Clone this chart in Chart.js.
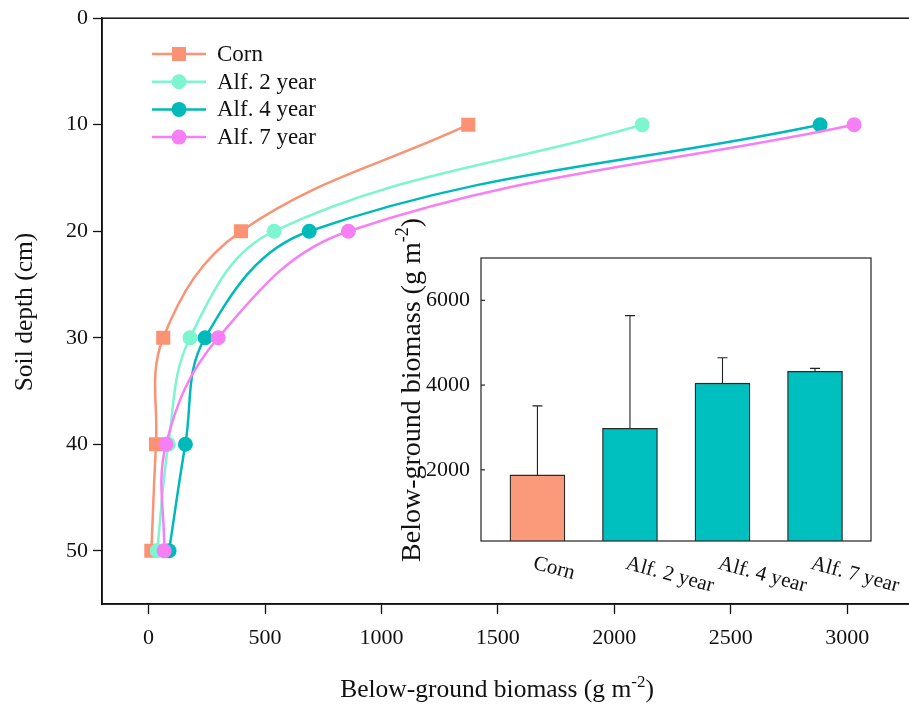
<!DOCTYPE html>
<html><head><meta charset="utf-8">
<script src="https://cdn.jsdelivr.net/npm/chart.js@4.4.1/dist/chart.umd.min.js"></script>
<style>
html,body{margin:0;padding:0;background:#fff;overflow:hidden}
#wrap{position:relative;width:909px;height:706px;overflow:hidden;background:#fff}
#main{position:absolute;left:0;top:0}
#inset{position:absolute;left:390px;top:190px}
</style></head><body>
<div id="wrap">
<canvas id="main" width="940" height="706"></canvas>
<canvas id="inset" width="519" height="420"></canvas>
</div>
<script>
// ---- data ----
const depths = [10, 20, 30, 40, 50];
const seriesNames = ['Corn', 'Alf. 2 year', 'Alf. 4 year', 'Alf. 7 year'];
const cornBiomass = [1373, 397, 63, 32, 12];
const alf2Biomass = [2120, 539, 178, 85, 37];
const alf4Biomass = [2884, 690, 243, 158, 88];
const alf7Biomass = [3030, 858, 299, 75, 67];
const depthTicks = [0, 10, 20, 30, 40, 50];
const biomassTicks = [0, 500, 1000, 1500, 2000, 2500, 3000];
const totalMean = [1880, 2980, 4045, 4325];
const totalSD = [1630, 2660, 600, 70];
const insetTicks = [2000, 4000, 6000];
const yTitle = 'Soil depth (cm)';
const bioTitle = ['Below-ground biomass (g m', '-2', ')'];

const FONT = "'Liberation Serif', 'Times New Roman', serif";
const lineColors = ['#FA9273', '#7DF5CF', '#00B9B9', '#F77FF6'];
const pointStyles = ['rect', 'circle', 'circle', 'circle'];
const barColors = ['#FA9A7A', '#00BFBF', '#00BFBF', '#00BFBF'];
const mainSeries = [cornBiomass, alf2Biomass, alf4Biomass, alf7Biomass];

function drawSupText(ctx, cx, cy, parts, size) {
  const big = size + 'px ' + FONT, small = Math.round(size * 0.66) + 'px ' + FONT;
  ctx.font = big; const w1 = ctx.measureText(parts[0]).width, w3 = ctx.measureText(parts[2]).width;
  ctx.font = small; const w2 = ctx.measureText(parts[1]).width;
  let x = cx - (w1 + w2 + w3) / 2;
  const by = cy + size * 0.33;
  ctx.textAlign = 'left'; ctx.textBaseline = 'alphabetic'; ctx.fillStyle = '#111';
  ctx.font = big; ctx.fillText(parts[0], x, by); x += w1;
  ctx.font = small; ctx.fillText(parts[1], x, by - size * 0.42); x += w2;
  ctx.font = big; ctx.fillText(parts[2], x, by);
}

const mainDecor = {
  id: 'mainDecor',
  beforeDraw(chart) {
    const ctx = chart.ctx; ctx.save(); ctx.fillStyle = '#fff';
    ctx.fillRect(0, 0, chart.width, chart.height); ctx.restore();
  },
  afterDraw(chart) {
    const ctx = chart.ctx, a = chart.chartArea;
    ctx.save();
    ctx.strokeStyle = '#111'; ctx.lineWidth = 1.5;
    ctx.strokeRect(a.left, a.top, a.right - a.left, a.bottom - a.top);
    // legend
    const ds = chart.data.datasets;
    ds.forEach((d, i) => {
      const y = 54 + i * 27.7;
      ctx.strokeStyle = d.borderColor; ctx.lineWidth = 2.5;
      ctx.beginPath(); ctx.moveTo(152, y); ctx.lineTo(206, y); ctx.stroke();
      ctx.fillStyle = d.backgroundColor;
      if (d.pointStyle === 'rect') ctx.fillRect(179 - 7, y - 7, 14, 14);
      else { ctx.beginPath(); ctx.arc(179, y, 7.5, 0, Math.PI * 2); ctx.fill(); }
      ctx.fillStyle = '#111'; ctx.font = '23px ' + FONT;
      ctx.textAlign = 'left'; ctx.textBaseline = 'middle';
      ctx.fillText(d.label, 217, y + 1);
    });
    // titles
    drawSupText(ctx, 497, 689, bioTitle, 25.5);
    ctx.save(); ctx.translate(25, 312); ctx.rotate(-Math.PI / 2);
    ctx.fillStyle = '#111'; ctx.font = '25.5px ' + FONT; ctx.textAlign = 'center'; ctx.textBaseline = 'middle';
    ctx.fillText(yTitle, 0, 0); ctx.restore();
    ctx.restore();
  }
};

new Chart(document.getElementById('main'), {
  type: 'line',
  data: {
    datasets: mainSeries.map((vals, i) => ({
      label: seriesNames[i],
      data: vals.map((v, j) => ({ x: v, y: depths[j] })),
      borderColor: lineColors[i], backgroundColor: lineColors[i],
      pointBackgroundColor: lineColors[i],
      borderWidth: 2.5, pointStyle: pointStyles[i],
      pointRadius: i === 0 ? 10 : 7.5, pointBorderWidth: 0,
      tension: 0.38, order: 4 - i, fill: false
    }))
  },
  options: {
    responsive: false, animation: false,
    layout: { padding: { left: 0, top: 17, right: 23, bottom: 0 } },
    plugins: { legend: { display: false }, tooltip: { enabled: false } },
    scales: {
      x: {
        type: 'linear', position: 'bottom', min: -200, max: 3300, offset: false,
        afterBuildTicks: s => { s.ticks = biomassTicks.map(v => ({ value: v })); },
        afterFit: s => { s.height = 102; },
        grid: { drawOnChartArea: false, tickLength: 10, tickColor: '#111', tickWidth: 1.3 },
        border: { color: '#111', width: 1.5 },
        ticks: { font: { family: FONT, size: 22 }, color: '#111', padding: 11, maxRotation: 0, callback: v => String(v) }
      },
      y: {
        type: 'linear', reverse: true, min: 0, max: 55, offset: false,
        afterBuildTicks: s => { s.ticks = depthTicks.map(v => ({ value: v })); },
        afterFit: s => { s.width = 102; },
        grid: { drawOnChartArea: false, tickLength: 9, tickColor: '#111', tickWidth: 1.3 },
        border: { color: '#111', width: 1.5 },
        ticks: { font: { family: FONT, size: 22 }, color: '#111', padding: 5, callback: v => String(v) }
      }
    }
  },
  plugins: [mainDecor]
});

const insetDecor = {
  id: 'insetDecor',
  afterDatasetsDraw(chart) {
    const ctx = chart.ctx, a = chart.chartArea, xs = chart.scales.x, ys = chart.scales.y;
    ctx.save();
    // error bars
    ctx.strokeStyle = '#222'; ctx.lineWidth = 1.1;
    totalMean.forEach((m, i) => {
      const x = xs.getPixelForValue(i), y0 = ys.getPixelForValue(m), y1 = ys.getPixelForValue(m + totalSD[i]);
      ctx.beginPath(); ctx.moveTo(x, y0); ctx.lineTo(x, y1);
      ctx.moveTo(x - 5, y1); ctx.lineTo(x + 5, y1); ctx.stroke();
    });
    // frame
    ctx.strokeStyle = '#333'; ctx.lineWidth = 1.3;
    ctx.strokeRect(a.left, a.top, a.right - a.left, a.bottom - a.top);
    // inward ticks
    insetTicks.forEach(v => {
      const y = ys.getPixelForValue(v);
      ctx.beginPath(); ctx.moveTo(a.left, y); ctx.lineTo(a.left + 4, y); ctx.stroke();
    });
    // rotated category labels
    ctx.fillStyle = '#111'; ctx.font = '21px ' + FONT;
    ctx.textAlign = 'left'; ctx.textBaseline = 'top';
    seriesNames.forEach((n, i) => {
      const x = xs.getPixelForValue(i) - 1;
      ctx.save(); ctx.translate(x, a.bottom + 12); ctx.rotate(15 * Math.PI / 180);
      ctx.fillText(n, 0, 0); ctx.restore();
    });
    // title
    ctx.save(); ctx.translate(21, 200); ctx.rotate(-Math.PI / 2);
    drawSupText(ctx, 0, 0, bioTitle, 28);
    ctx.restore();
    ctx.restore();
  }
};

new Chart(document.getElementById('inset'), {
  type: 'bar',
  data: {
    datasets: [{
      label: 'Below-ground biomass',
      data: totalMean.map((v, i) => ({ x: i, y: v })),
      backgroundColor: barColors, borderColor: '#2a2a2a', borderWidth: 1.3,
      borderSkipped: false, barThickness: 55
    }]
  },
  options: {
    responsive: false, animation: false,
    layout: { padding: { left: 0, top: 68, right: 38, bottom: 0 } },
    plugins: { legend: { display: false }, tooltip: { enabled: false } },
    scales: {
      x: {
        type: 'linear', min: -0.61, max: 3.605, offset: false,
        afterFit: s => { s.height = 69; },
        grid: { display: false }, border: { display: false },
        ticks: { display: false }
      },
      y: {
        type: 'linear', min: 320, max: 7000, offset: false,
        afterBuildTicks: s => { s.ticks = insetTicks.map(v => ({ value: v })); },
        afterFit: s => { s.width = 91; },
        grid: { display: false, drawTicks: false }, border: { display: false },
        ticks: { font: { family: FONT, size: 22 }, color: '#111', padding: 11, callback: v => String(v) }
      }
    }
  },
  plugins: [insetDecor]
});
</script>
</body></html>
